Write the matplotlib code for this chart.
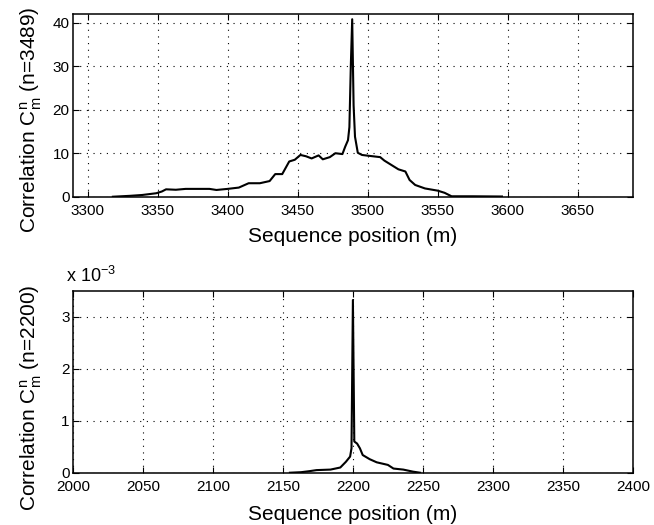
import numpy as np
import matplotlib
matplotlib.use("Agg")
import matplotlib.pyplot as plt

plt.rcParams['font.family'] = ['Liberation Sans', 'DejaVu Sans']
plt.rcParams['mathtext.fontset'] = 'custom'
plt.rcParams['mathtext.rm'] = 'Liberation Sans'
plt.rcParams['mathtext.it'] = 'Liberation Sans'

# top panel, n=3489
pos_a = [3318, 3330, 3339, 3349, 3353, 3356, 3363, 3370, 3380, 3387, 3392, 3400, 3408, 3415,
         3423, 3430, 3434, 3439, 3444, 3448, 3452, 3456, 3460, 3465, 3468, 3473, 3477, 3482,
         3484, 3486, 3487, 3488, 3489, 3490, 3491, 3493, 3496, 3501, 3509, 3512, 3517, 3522,
         3527, 3530, 3534, 3541, 3550, 3555, 3560, 3575, 3596]
corr_a = [0, 0.2, 0.4, 0.8, 1.2, 1.7, 1.6, 1.8, 1.8, 1.8, 1.55, 1.8, 2.1, 3.1,
          3.1, 3.6, 5.2, 5.2, 8.1, 8.5, 9.6, 9.3, 8.8, 9.5, 8.6, 9.1, 10.0, 9.8,
          11.5, 13, 16, 30, 40.8, 21, 13.8, 10.1, 9.6, 9.4, 9.1, 8.3, 7.3, 6.3,
          5.8, 3.85, 2.7, 1.9, 1.4, 0.9, 0.1, 0.1, 0.05]

# bottom panel, n=2200 (values in units of 1e-3)
pos_b = [2155, 2163, 2169, 2174, 2184, 2191, 2195, 2198, 2199, 2200, 2201, 2203, 2205,
         2207, 2212, 2217, 2225, 2229, 2236, 2243, 2248]
corr_b = [0, 0.01, 0.03, 0.05, 0.06, 0.1, 0.21, 0.31, 0.47, 3.32, 0.6, 0.56, 0.47,
          0.34, 0.26, 0.2, 0.15, 0.08, 0.06, 0.02, 0]

fig = plt.figure(figsize=(6.54, 5.25), dpi=100)
ax1 = fig.add_axes([0.1116, 0.6253, 0.856, 0.348])
ax2 = fig.add_axes([0.1116, 0.0996, 0.856, 0.3467])

def style(ax):
    ax.grid(True, linestyle=(0, (1, 5)), color='k', linewidth=0.8)
    ax.tick_params(direction='in', top=True, right=True, length=4, labelsize=11)
    ax.tick_params(axis='x', pad=5)
    ax.tick_params(axis='y', pad=2.5)
    for s in ax.spines.values():
        s.set_linewidth(1.1)

ax1.plot(pos_a, corr_a, color='k', lw=1.5)
ax1.set_xlim(3289.5, 3689.5)
ax1.set_ylim(0, 42)
ax1.set_xticks(np.arange(3300, 3651, 50))
ax1.set_yticks([0, 10, 20, 30, 40])
style(ax1)

ax2.plot(pos_b, corr_b, color='k', lw=1.5)
ax2.set_xlim(2000, 2400)
ax2.set_ylim(0, 3.5)
ax2.set_xticks(np.arange(2000, 2401, 50))
ax2.set_yticks([0, 1, 2, 3])
style(ax2)

# axis labels
fig.text(0.5398, 0.5396, "Sequence position (m)", fontsize=15, ha='center', va='baseline')
fig.text(0.5398, 0.0095, "Sequence position (m)", fontsize=15, ha='center', va='baseline')
fig.text(0.056, 0.7714, r"Correlation C$_m^n$ (n=3489)", fontsize=15, rotation=90,
         rotation_mode='anchor', ha='center', va='baseline')
fig.text(0.056, 0.243, r"Correlation C$_m^n$ (n=2200)", fontsize=15, rotation=90,
         rotation_mode='anchor', ha='center', va='baseline')
fig.text(0.101, 0.463, r"x 10$^{-3}$", fontsize=13, ha='left', va='baseline')

fig.savefig("out.png", dpi=100)
